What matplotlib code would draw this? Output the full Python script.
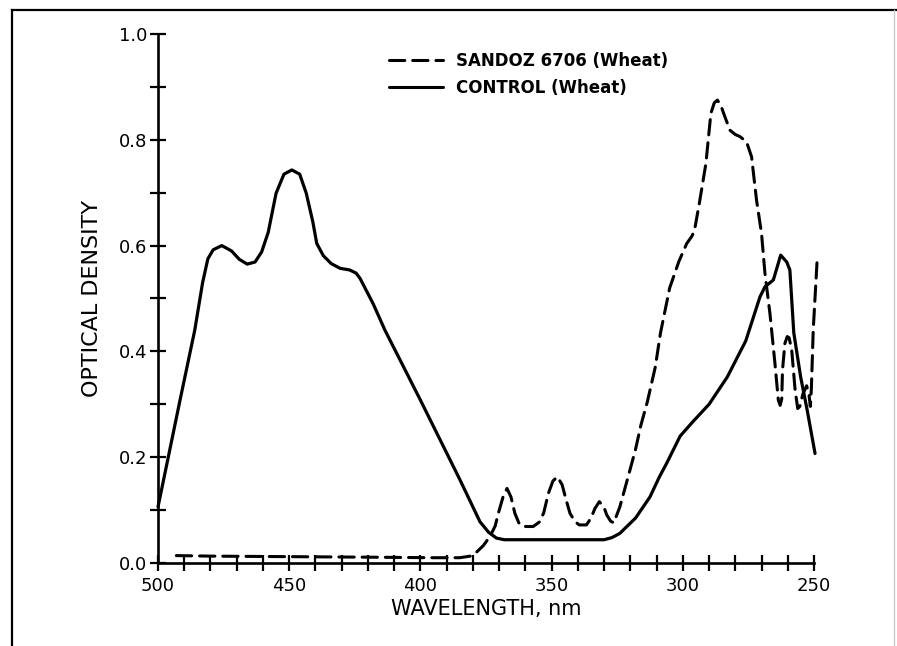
import matplotlib
matplotlib.use("Agg")
import matplotlib.pyplot as plt
from matplotlib.lines import Line2D
from matplotlib.ticker import MultipleLocator

# Absorption spectra of wheat extracts (wavelength in nm, optical density)
control_wl = [500, 491.6, 486, 483, 481, 479, 475.7, 472, 469, 466, 463, 460.5, 458,
              455, 452, 449, 446, 443.5, 441, 439.5, 437, 434, 430.6, 427, 424.5,
              423, 418, 413.5, 400, 385, 377.3, 374, 371, 368, 330, 327, 324,
              318, 312.5, 309, 306, 301, 296, 290, 283, 276, 270.6, 268.7, 265.5,
              264, 262.7, 260.4, 259.2, 257.7, 255.1, 252.6, 249.6]
control_od = [0.106, 0.308, 0.44, 0.53, 0.575, 0.592, 0.600, 0.59, 0.574, 0.565, 0.569, 0.588, 0.625,
              0.699, 0.735, 0.743, 0.735, 0.699, 0.645, 0.604, 0.581, 0.566, 0.557, 0.554, 0.548,
              0.538, 0.49, 0.44, 0.308, 0.158, 0.078, 0.058, 0.047, 0.044, 0.044, 0.048, 0.056,
              0.085, 0.125, 0.162, 0.19, 0.24, 0.268, 0.30, 0.352, 0.42, 0.503, 0.522, 0.535,
              0.56, 0.582, 0.569, 0.554, 0.435, 0.352, 0.289, 0.207]

sandoz_wl = [493, 480, 450, 420, 395, 385, 381, 378.5, 376, 373.5, 371.5, 370.3,
             368.5, 367, 365.5, 364, 362.5, 361, 357, 354.5, 353, 351.2, 349.5, 347.8,
             346, 344.5, 343, 341, 339.5, 336.7, 335, 333.5, 331.8, 330, 329, 327.5,
             326.3, 324, 321, 318, 316, 313.5, 310.5, 308.5, 305, 301.5, 298.5, 296.5,
             295.5, 293.7, 291.2, 289.3, 288, 286.8, 285.5, 284, 282, 280, 278.2, 275.7,
             273.8, 271.9, 270, 268.7, 266.8, 264.9, 263.6, 262.9, 262.3, 262, 261.1, 260.2,
             259.5, 258.5, 257.2, 256.2, 255.4, 254.2, 252.8, 251.9, 251.4, 251.0, 250.3, 248.8]
sandoz_od = [0.014, 0.013, 0.012, 0.011, 0.010, 0.010, 0.013, 0.021, 0.033, 0.05, 0.07, 0.094,
             0.125, 0.141, 0.125, 0.094, 0.076, 0.069, 0.069, 0.078, 0.095, 0.132, 0.155, 0.163,
             0.148, 0.12, 0.094, 0.078, 0.072, 0.072, 0.085, 0.103, 0.116, 0.105, 0.091, 0.079,
             0.076, 0.106, 0.16, 0.215, 0.26, 0.305, 0.37, 0.435, 0.52, 0.57, 0.604, 0.618,
             0.63, 0.68, 0.755, 0.85, 0.87, 0.875, 0.865, 0.844, 0.818, 0.81, 0.806, 0.796,
             0.768, 0.686, 0.623, 0.548, 0.472, 0.378, 0.308, 0.298, 0.31, 0.365, 0.415, 0.428,
             0.426, 0.403, 0.327, 0.292, 0.296, 0.32, 0.335, 0.318, 0.296, 0.33, 0.44, 0.573]

x_major = [500, 450, 400, 350, 300, 250]
y_major = [0.0, 0.2, 0.4, 0.6, 0.8, 1.0]
y_labels = ["0.0", "0.2", "0.4", "0.6", "0.8", "1.0"]

plt.rcParams["font.family"] = ["DejaVu Sans"]

fig = plt.figure(figsize=(8.97, 6.46), dpi=100)
ax = fig.add_axes([158 / 897, 1 - 563 / 646, (814 - 158) / 897, (563 - 34) / 646])

ax.plot(sandoz_wl, sandoz_od, color="black", lw=2.2, ls=(0, (5, 2.6)),
        solid_joinstyle="round", dash_capstyle="round", clip_on=False,
        label="SANDOZ 6706 (Wheat)")
ax.plot(control_wl, control_od, color="black", lw=2.3,
        solid_joinstyle="round", solid_capstyle="round", clip_on=False,
        label="CONTROL (Wheat)")

ax.set_xlim(500, 250)
ax.set_ylim(0, 1.0)
ax.spines["top"].set_visible(False)
ax.spines["right"].set_visible(False)
for s in ("left", "bottom"):
    ax.spines[s].set_linewidth(1.9)

ax.set_xticks(x_major)
ax.set_xticklabels([str(v) for v in x_major])
ax.set_yticks(y_major)
ax.set_yticklabels(y_labels)
ax.xaxis.set_minor_locator(MultipleLocator(10))
ax.yaxis.set_minor_locator(MultipleLocator(0.1))
ax.tick_params(which="both", direction="inout", length=12, width=1.6,
               labelsize=13, color="black")
ax.tick_params(axis="x", which="both", pad=4)
ax.tick_params(axis="y", which="both", pad=2)

ax.set_xlabel("WAVELENGTH, nm", fontsize=15, labelpad=3)
ax.set_ylabel("OPTICAL DENSITY", fontsize=16, labelpad=12)

leg = ax.legend(loc="upper left", bbox_to_anchor=(0.33, 0.995), frameon=False,
                handlelength=3.2, handletextpad=0.8, labelspacing=0.55,
                prop={"size": 12, "weight": "bold"})
for h in leg.get_lines():
    h.set_linewidth(2.2)

# page border
fig.add_artist(Line2D([12 / 897, 12 / 897], [0, 1 - 10 / 646], color="black", lw=1.6,
                      transform=fig.transFigure))
fig.add_artist(Line2D([12 / 897, 1.0], [1 - 10 / 646, 1 - 10 / 646], color="black", lw=1.6,
                      transform=fig.transFigure))
fig.add_artist(Line2D([894 / 897, 894 / 897], [0, 1 - 10 / 646], color="#cccccc", lw=1.0,
                      transform=fig.transFigure))

fig.savefig("out.png", dpi=100)
